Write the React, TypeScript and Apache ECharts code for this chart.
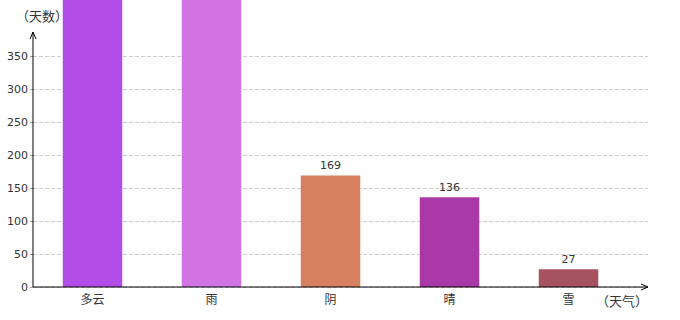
import React, { useEffect, useRef } from "react";
import * as echarts from "echarts";

const categories = ["多云", "雨", "阴", "晴", "雪"];
const values = [463, 441, 169, 136, 27];
const colors = ["#b34de8", "#cf74e2", "#d7805f", "#aa39a7", "#a6525f"];
const yTicks = { min: 0, max: 350, interval: 50 };

export default function App() {
  const ref = useRef<HTMLDivElement>(null);
  useEffect(() => {
    document.body.style.margin = "0";
    const chart = echarts.init(ref.current!, null, { renderer: "svg" });
    const gridLeft = 33, gridTop = 56, gridBottom = 33;
    const x0 = gridLeft, y0 = 320 - gridBottom;
    chart.setOption({
      animation: false,
      backgroundColor: "#ffffff",
      grid: [
        { left: gridLeft, right: 52, top: gridTop, bottom: gridBottom },
        { left: gridLeft, right: 32, top: gridTop, bottom: gridBottom },
      ],
      xAxis: [
        {
          type: "category",
          gridIndex: 0,
          data: categories,
          axisLine: { show: false },
          axisTick: { show: false },
          axisLabel: { color: "#333", fontSize: 12, margin: 5, fontFamily: "Noto Sans CJK SC" },
        },
        { type: "value", gridIndex: 1, show: false, min: 0, max: 1 },
      ],
      yAxis: [
        {
          type: "value",
          gridIndex: 0,
          min: yTicks.min,
          max: yTicks.max,
          interval: yTicks.interval,
          show: false,
          splitLine: { show: false },
        },
        {
          type: "value",
          gridIndex: 1,
          min: yTicks.min,
          max: yTicks.max,
          interval: yTicks.interval,
          axisLine: { show: false },
          axisTick: { show: true, length: 3, lineStyle: { color: "#999" } },
          axisLabel: { color: "#333", fontSize: 11, margin: 5, fontFamily: "DejaVu Sans" },
          splitLine: { lineStyle: { type: "dashed", color: "#ccc" } },
        },
      ],
      series: [
        {
          type: "bar",
          xAxisIndex: 0,
          yAxisIndex: 0,
          clip: false,
          barWidth: "50%",
          data: values.map((v, i) => ({
            value: v,
            itemStyle: { color: colors[i] },
            label: { show: v <= yTicks.max },
          })),
          label: { show: true, position: "top", color: "#333", fontSize: 11, distance: 4, fontFamily: "DejaVu Sans" },
        },
      ],
      graphic: [
        { type: "line", z: 100, shape: { x1: x0, y1: y0, x2: x0, y2: 32 }, style: { stroke: "#000", lineWidth: 1 } },
        { type: "polyline", z: 100, shape: { points: [[x0 - 3, 39], [x0, 32], [x0 + 3, 39]] }, style: { stroke: "#000", lineWidth: 1, fill: null } },
        { type: "line", z: 100, shape: { x1: x0, y1: y0, x2: 648, y2: y0 }, style: { stroke: "#000", lineWidth: 1 } },
        { type: "polyline", z: 100, shape: { points: [[641, y0 - 3], [648, y0], [641, y0 + 3]] }, style: { stroke: "#000", lineWidth: 1, fill: null } },
        { type: "text", x: 16, y: 15, style: { text: "（天数）", fill: "#333", font: "13px 'Noto Sans CJK SC'", verticalAlign: "middle" } },
        { type: "text", x: 596, y: 300, style: { text: "（天气）", fill: "#333", font: "13px 'Noto Sans CJK SC'", verticalAlign: "middle" } },
      ],
    });
    return () => chart.dispose();
  }, []);
  return <div ref={ref} style={{ position: "absolute", left: 0, top: 0, width: 680, height: 320 }} />;
}
